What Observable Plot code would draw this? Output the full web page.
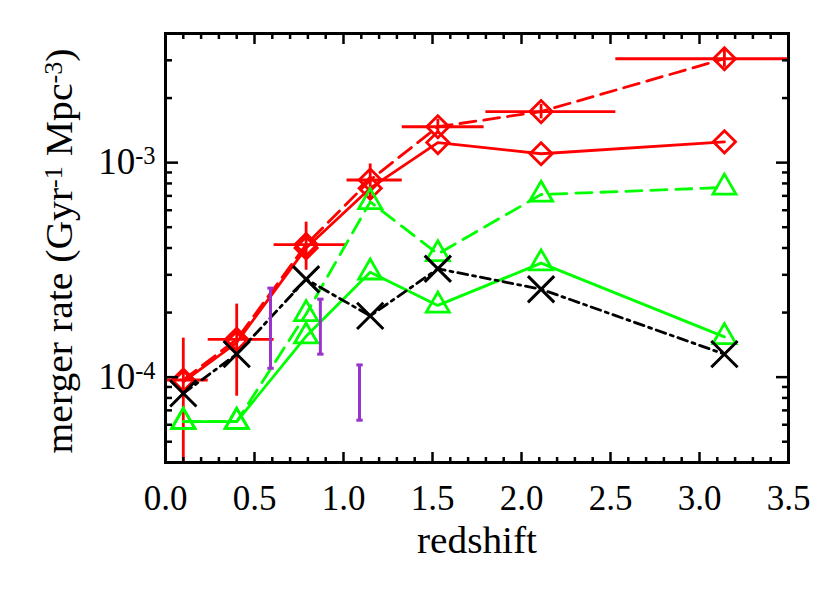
<!DOCTYPE html>
<html>
<head>
<meta charset="utf-8">
<script src="https://cdn.jsdelivr.net/npm/d3@7"></script>
<script src="https://cdn.jsdelivr.net/npm/@observablehq/plot@0.6"></script>
<style>
  html, body { margin: 0; padding: 0; background: #fff; }
  #chart { width: 830px; height: 593px; }
</style>
</head>
<body>
<div id="chart"></div>
<script>
// ---- data ----
const redshift = [0.1, 0.4, 0.79, 1.15, 1.53, 2.11, 3.14];

const redDashed = [9.7e-5, 1.50e-4, 4.15e-4, 8.3e-4, 1.47e-3, 1.73e-3, 3.05e-3];
const redDashedLo = [3.0e-5, 8.15e-5, 3.15e-4, 6.84e-4, 1.36e-3, 1.60e-3, 2.78e-3];
const redDashedHi = [1.52e-4, 2.19e-4, 5.28e-4, 9.86e-4, 1.59e-3, 1.87e-3, 3.35e-3];
const redBinLo = [0.0, 0.24, 0.61, 1.02, 1.33, 1.80, 2.53];
const redBinHi = [0.24, 0.61, 1.02, 1.33, 1.79, 2.53, 3.5];

const redSolid = [9.5e-5, 1.45e-4, 4.0e-4, 7.6e-4, 1.24e-3, 1.10e-3, 1.25e-3];
const greenDashed = [6.2e-5, 6.2e-5, 1.97e-4, 6.56e-4, 3.75e-4, 7.1e-4, 7.66e-4];
const greenSolid = [6.2e-5, 6.2e-5, 1.55e-4, 3.08e-4, 2.16e-4, 3.4e-4, 1.54e-4];
const blackDashDot = [8.4e-5, 1.28e-4, 2.86e-4, 1.93e-4, 3.2e-4, 2.57e-4, 1.28e-4];

const purpleZ = [0.59, 0.87, 1.09];
const purpleLo = [1.1e-4, 1.28e-4, 6.3e-5];
const purpleHi = [2.6e-4, 2.31e-4, 1.14e-4];

const xMajorTicks = [0, 0.5, 1.0, 1.5, 2.0, 2.5, 3.0, 3.5];
const xMinorTicks = [0.1,0.2,0.3,0.4,0.6,0.7,0.8,0.9,1.1,1.2,1.3,1.4,1.6,1.7,1.8,1.9,2.1,2.2,2.3,2.4,2.6,2.7,2.8,2.9,3.1,3.2,3.3,3.4];
const yMajorTicks = [1e-4, 1e-3];
const yMajorLabels = ["10^{-4}", "10^{-3}"];
const yMinorTicks = [5e-5, 6e-5, 7e-5, 8e-5, 9e-5, 2e-4, 3e-4, 4e-4, 5e-4, 6e-4, 7e-4, 8e-4, 9e-4, 2e-3, 3e-3, 4e-3];
const xTitle = "redshift";
const yTitle = "merger rate (Gyr^{-1} Mpc^{-3})";

// ---- tables built from the arrays ----
const redDashedT = redshift.map((z, i) => ({z, v: redDashed[i], lo: redDashedLo[i], hi: redDashedHi[i], zlo: redBinLo[i], zhi: redBinHi[i]}));
const series = (arr) => redshift.map((z, i) => ({z, v: arr[i]}));
const purpleT = purpleZ.map((z, i) => ({z, lo: purpleLo[i], hi: purpleHi[i]}));

const RED = "#ff0000", GREEN = "#00ff00", BLACK = "#000000", PURPLE = "#9933cc";
const SW = 2.8;
const fontSize = 35;
const titleSize = 38;

// horizontal cap symbol for the purple error bars
const capSymbol = { draw(ctx, size) { const w = Math.sqrt(size) * 0.6; ctx.moveTo(-w, 0); ctx.lineTo(w, 0); } };

const plot = Plot.plot({
  width: 830,
  height: 593,
  marginLeft: 165,
  marginRight: 42,
  marginTop: 33,
  marginBottom: 131,
  style: { fontFamily: "'Liberation Serif', 'Times New Roman', serif", background: "#fff", color: "#000" },
  x: { type: "linear", domain: [0, 3.5], label: null },
  y: { type: "log", domain: [4e-5, 4e-3], label: null },
  marks: [
    // red dashed with error bars
    Plot.line(series(redDashed), { x: "z", y: "v", stroke: RED, strokeWidth: SW, strokeDasharray: "16,8", clip: true }),
    Plot.ruleY(redDashedT, { y: "v", x1: "zlo", x2: "zhi", stroke: RED, strokeWidth: SW, clip: true }),
    Plot.ruleX(redDashedT, { x: "z", y1: "lo", y2: "hi", stroke: RED, strokeWidth: SW, clip: true }),
    Plot.dot(series(redDashed), { x: "z", y: "v", symbol: "diamond2", r: 10, stroke: RED, strokeWidth: SW, fill: "none" }),
    // red solid
    Plot.line(series(redSolid), { x: "z", y: "v", stroke: RED, strokeWidth: SW }),
    Plot.dot(series(redSolid), { x: "z", y: "v", symbol: "diamond2", r: 10, stroke: RED, strokeWidth: SW, fill: "none" }),
    // green dashed
    Plot.line(series(greenDashed), { x: "z", y: "v", stroke: GREEN, strokeWidth: SW, strokeDasharray: "16,9" }),
    Plot.dot(series(greenDashed), { x: "z", y: "v", symbol: "triangle2", r: 11, stroke: GREEN, strokeWidth: SW, fill: "none" }),
    // green solid
    Plot.line(series(greenSolid), { x: "z", y: "v", stroke: GREEN, strokeWidth: SW }),
    Plot.dot(series(greenSolid), { x: "z", y: "v", symbol: "triangle2", r: 11, stroke: GREEN, strokeWidth: SW, fill: "none" }),
    // black dash-dot
    Plot.line(series(blackDashDot), { x: "z", y: "v", stroke: BLACK, strokeWidth: SW, strokeDasharray: "10,5,3,5" }),
    Plot.dot(series(blackDashDot), { x: "z", y: "v", symbol: "times", r: 12, stroke: BLACK, strokeWidth: 3 }),
    // purple error bars
    Plot.ruleX(purpleT, { x: "z", y1: "lo", y2: "hi", stroke: PURPLE, strokeWidth: 3 }),
    Plot.dot(purpleT, { x: "z", y: "lo", symbol: capSymbol, r: 3, stroke: PURPLE, strokeWidth: 3 }),
    Plot.dot(purpleT, { x: "z", y: "hi", symbol: capSymbol, r: 3, stroke: PURPLE, strokeWidth: 3 }),
    // frame
    Plot.frame({ stroke: "#000", strokeWidth: 3 }),
    // ticks (inward, mirrored)
    Plot.axisX({ anchor: "bottom", ticks: xMajorTicks, tickSize: -10, tickFormat: () => "", strokeWidth: 2.5, label: null }),
    Plot.axisX({ anchor: "bottom", ticks: xMinorTicks, tickSize: -5, tickFormat: () => "", strokeWidth: 2.5, label: null }),
    Plot.axisX({ anchor: "top", ticks: xMajorTicks, tickSize: -10, tickFormat: () => "", strokeWidth: 2.5, label: null }),
    Plot.axisX({ anchor: "top", ticks: xMinorTicks, tickSize: -5, tickFormat: () => "", strokeWidth: 2.5, label: null }),
    Plot.axisY({ anchor: "left", ticks: yMajorTicks, tickSize: -13, tickFormat: () => "", strokeWidth: 2.5, label: null }),
    Plot.axisY({ anchor: "left", ticks: yMinorTicks, tickSize: -7, tickFormat: () => "", strokeWidth: 2.5, label: null }),
    Plot.axisY({ anchor: "right", ticks: yMajorTicks, tickSize: -13, tickFormat: () => "", strokeWidth: 2.5, label: null }),
    Plot.axisY({ anchor: "right", ticks: yMinorTicks, tickSize: -7, tickFormat: () => "", strokeWidth: 2.5, label: null }),
    // tick labels
    Plot.axisX({ anchor: "bottom", ticks: xMajorTicks, tickSize: 0, tickPadding: 23, fontSize: fontSize, tickFormat: d => d.toFixed(1), label: null }),
    Plot.axisY({ anchor: "left", ticks: yMajorTicks, tickSize: 0, tickPadding: 10, fontSize: 37, tickFormat: d => yMajorLabels[yMajorTicks.indexOf(d)], label: null }),
    // axis titles
    Plot.text([xTitle], { frameAnchor: "bottom", lineAnchor: "top", dy: 64, fontSize: titleSize, text: d => d, className: "xtitle" }),
    Plot.text([yTitle], { frameAnchor: "left", textAnchor: "middle", rotate: -90, lineAnchor: "top", dx: -120, dy: 4, fontSize: titleSize, text: d => d, className: "ytitle" })
  ]
});

document.getElementById("chart").appendChild(plot);

// superscripts: turn "a^{b}c" into tspans
d3.select(plot).selectAll("text").each(function () {
  const el = d3.select(this);
  if (el.selectAll("tspan").size() > 0) {
    el.selectAll("tspan").each(function () { convert(d3.select(this)); });
  } else {
    convert(el);
  }
});
function convert(el) {
  const s = el.text();
  if (!s.includes("^{")) return;
  el.text("");
  const parts = s.split(/(\^\{[^}]*\})/);
  let raised = false;
  for (const p of parts) {
    if (!p) continue;
    if (p.startsWith("^{")) {
      el.append("tspan").attr("dy", "-0.42em").attr("font-size", "0.66em").text(p.slice(2, -1));
      raised = true;
    } else {
      const t = el.append("tspan").text(p);
      if (raised) { t.attr("dy", "0.277em"); raised = false; }
    }
  }
}

// stretch the axis titles to the extent seen in the reference and centre them
const svg = d3.select(plot);
const xt = svg.select("g.xtitle text");
xt.attr("textLength", 120).attr("lengthAdjust", "spacingAndGlyphs");
const ytNode = svg.select("g.ytitle text").node();
if (ytNode) {
  ytNode.setAttribute("textLength", 405);
  ytNode.setAttribute("lengthAdjust", "spacingAndGlyphs");
  // re-centre on the reference midpoint (screen y = 251)
  const bb = ytNode.getBoundingClientRect();
  const svgBB = plot.getBoundingClientRect();
  const mid = (bb.top + bb.bottom) / 2 - svgBB.top;
  const g = ytNode.parentNode;
  const prev = g.getAttribute("transform") || "";
  g.setAttribute("transform", prev + ` translate(0,${(251 - mid).toFixed(1)})`);
}
</script>
</body>
</html>
